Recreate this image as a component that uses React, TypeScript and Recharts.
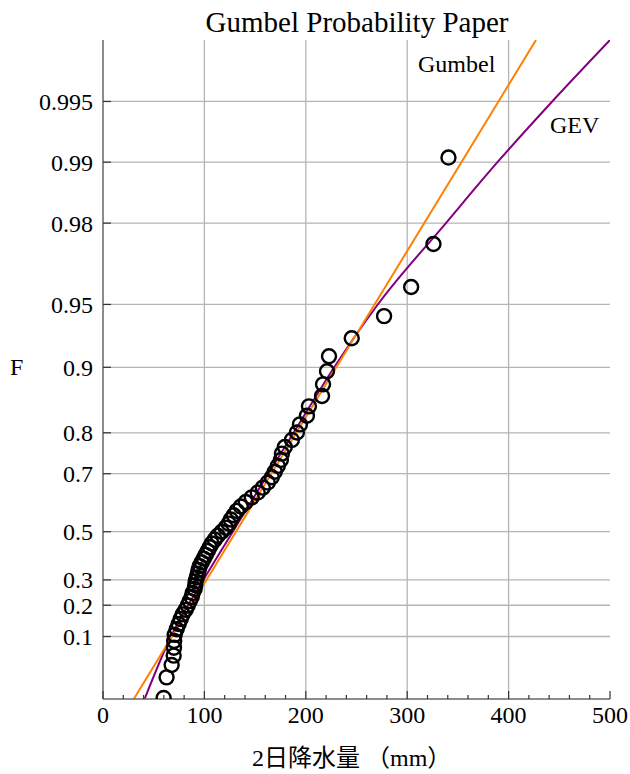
import React from 'react';
import { ComposedChart, Scatter, Line, XAxis, YAxis, ReferenceLine } from 'recharts';

// probability ticks (F) shown on the Gumbel paper
const probTicks = [0.1, 0.2, 0.3, 0.5, 0.7, 0.8, 0.9, 0.95, 0.98, 0.99, 0.995];
const probLabels = ['0.1', '0.2', '0.3', '0.5', '0.7', '0.8', '0.9', '0.95', '0.98', '0.99', '0.995'];

// x ticks: minor every 20, labelled every 100
const xTicks = [0, 20, 40, 60, 80, 100, 120, 140, 160, 180, 200, 220, 240, 260, 280, 300, 320, 340, 360, 380, 400, 420, 440, 460, 480, 500];
const xGrid = [100, 200, 300, 400];

// observed 2-day rainfall (mm) and their plotted reduced variates
const pointX = [
  59.8, 62.7, 67.7, 69.7, 70.0, 70.2, 70.7, 72.6, 74.6, 76.6,
  78.6, 81.5, 83.5, 85.5, 87.5, 88.4, 90.4, 90.9, 91.4, 92.4,
  93.4, 94.4, 95.4, 97.3, 99.3, 101.3, 103.3, 105.2, 107.2, 110.2,
  113.1, 117.1, 121.0, 124.0, 126.0, 128.9, 131.9, 135.9, 140.8, 146.7,
  152.6, 157.6, 162.5, 166.5, 169.4, 172.4, 175.4, 176.4, 179.3, 186.3,
  191.2, 194.2, 201.1, 203.1, 216.0, 217.0, 220.9, 222.9, 245.3, 277.2,
  303.9, 325.9, 340.7,
];
const pointY = [
  -1.538, -1.302, -1.160, -1.053, -0.963, -0.885, -0.815, -0.751, -0.691, -0.634,
  -0.580, -0.528, -0.478, -0.429, -0.382, -0.336, -0.290, -0.246, -0.202, -0.158,
  -0.114, -0.071, -0.028, 0.015, 0.058, 0.101, 0.145, 0.188, 0.232, 0.276,
  0.321, 0.367, 0.413, 0.459, 0.507, 0.555, 0.605, 0.655, 0.707, 0.760,
  0.815, 0.872, 0.930, 0.991, 1.054, 1.120, 1.188, 1.261, 1.337, 1.418,
  1.503, 1.596, 1.695, 1.803, 1.922, 2.055, 2.205, 2.377, 2.583, 2.836,
  3.170, 3.663, 4.653,
];

// fitted lines
const gumbelX = [30.4, 427.0];
const gumbelY = [-1.55, 6.0];
const gevX = [41, 67, 99, 128, 163, 188, 228, 271, 338, 389, 443, 500];
const gevY = [-1.55, -0.834, -0.186, 0.367, 1.031, 1.5, 2.25, 2.97, 3.9, 4.6, 5.296, 6.0];

const reduced = (f: number) => -Math.log(-Math.log(f));
const yTicks = probTicks.map(reduced);

const points = pointX.map((x, i) => ({ x, y: pointY[i] }));
const gumbelData = gumbelX.map((x, i) => ({ x, y: gumbelY[i] }));
const gevData = gevX.map((x, i) => ({ x, y: gevY[i] }));

const FONT = '"Liberation Serif", "Times New Roman", serif';
const TICK = '#333';
const FRAME = '#666';
const GRID = '#b5b5b5';

const labelFor = (v: number) => {
  const i = yTicks.findIndex(t => Math.abs(t - v) < 1e-6);
  return i >= 0 ? probLabels[i] : '';
};

const BottomTick = ({ x, y, payload }: any) => {
  const major = payload.value % 100 === 0;
  return (
    <g>
      <line x1={x} x2={x} y1={y} y2={y - (major ? 8 : 4)} stroke={TICK} strokeWidth={1.2} />
      {major && (
        <text x={x} y={y + 24} textAnchor="middle" fontFamily={FONT} fontSize={24} fill="#000">
          {payload.value}
        </text>
      )}
    </g>
  );
};

const TopTick = ({ x, y, payload }: any) => {
  const major = payload.value % 100 === 0;
  return <line x1={x} x2={x} y1={y} y2={y + (major ? 8 : 4)} stroke={TICK} strokeWidth={1.2} />;
};

const LeftTick = ({ x, y, payload }: any) => (
  <g>
    <line x1={x} x2={x + 8} y1={y} y2={y} stroke={TICK} strokeWidth={1.2} />
    <text x={x - 10} y={y} dy="0.35em" textAnchor="end" fontFamily={FONT} fontSize={24} fill="#000">
      {labelFor(payload.value)}
    </text>
  </g>
);

const RightTick = ({ x, y }: any) => (
  <line x1={x} x2={x - 8} y1={y} y2={y} stroke={TICK} strokeWidth={1.2} />
);

const Ring = ({ cx, cy }: any) => (
  <circle cx={cx} cy={cy} r={7} fill="none" stroke="#000" strokeWidth={2.4} />
);

export default function App() {
  return (
    <div style={{ position: 'absolute', left: 0, top: 0, width: 630, height: 774, background: '#fff' }}>
      <ComposedChart width={630} height={774} margin={{ top: 40, right: 20, bottom: 35, left: 0 }}>
        <XAxis
          xAxisId={0}
          dataKey="x"
          type="number"
          domain={[0, 500]}
          ticks={xTicks}
          interval={0}
          allowDataOverflow
          height={40}
          tickSize={0}
          tickMargin={0}
          tickLine={false}
          axisLine={{ stroke: FRAME, strokeWidth: 1.5 }}
          tick={<BottomTick />}
        />
        <XAxis
          xAxisId="top"
          orientation="top"
          type="number"
          domain={[0, 500]}
          ticks={xTicks}
          interval={0}
          allowDataOverflow
          height={0}
          tickSize={0}
          tickMargin={0}
          tickLine={false}
          axisLine={{ stroke: FRAME, strokeWidth: 1.5 }}
          tick={<TopTick />}
        />
        <YAxis
          yAxisId={0}
          dataKey="y"
          type="number"
          domain={[-1.55, 6.0]}
          ticks={yTicks}
          interval={0}
          allowDataOverflow
          width={103}
          tickSize={0}
          tickMargin={0}
          tickLine={false}
          axisLine={{ stroke: FRAME, strokeWidth: 1.5 }}
          tick={<LeftTick />}
        />
        <YAxis
          yAxisId="right"
          orientation="right"
          type="number"
          domain={[-1.55, 6.0]}
          ticks={yTicks}
          interval={0}
          allowDataOverflow
          width={0}
          tickSize={0}
          tickMargin={0}
          tickLine={false}
          axisLine={{ stroke: FRAME, strokeWidth: 1.5 }}
          tick={<RightTick />}
        />

        {xGrid.map(v => (
          <ReferenceLine key={'gx' + v} x={v} stroke={GRID} strokeWidth={1.3} />
        ))}
        {yTicks.map((v, i) => (
          <ReferenceLine key={'gy' + i} y={v} stroke={GRID} strokeWidth={1.3} />
        ))}

        <Scatter data={points} dataKey="y" shape={<Ring />} isAnimationActive={false} />
        <Line data={gevData} dataKey="y" type="monotone" stroke="#800080" strokeWidth={2} dot={false} isAnimationActive={false} />
        <Line data={gumbelData} dataKey="y" type="linear" stroke="#ff8000" strokeWidth={2} dot={false} isAnimationActive={false} />
      </ComposedChart>

      <svg width={630} height={774} style={{ position: 'absolute', left: 0, top: 0, pointerEvents: 'none' }}>
        <text x={357} y={32} textAnchor="middle" fontFamily={FONT} fontSize={29} fill="#000">
          Gumbel Probability Paper
        </text>
        <text x={10} y={375} fontFamily={FONT} fontSize={24} fill="#000">F</text>
        <text x={252} y={766} fontFamily={'"Liberation Serif", "Noto Sans CJK JP", serif'} fontSize={24} fill="#000">
          2日降水量 （mm）
        </text>
        <text x={418} y={72} fontFamily={FONT} fontSize={24} fill="#000">Gumbel</text>
        <text x={550} y={133} fontFamily={FONT} fontSize={24} fill="#000">GEV</text>
      </svg>
    </div>
  );
}
